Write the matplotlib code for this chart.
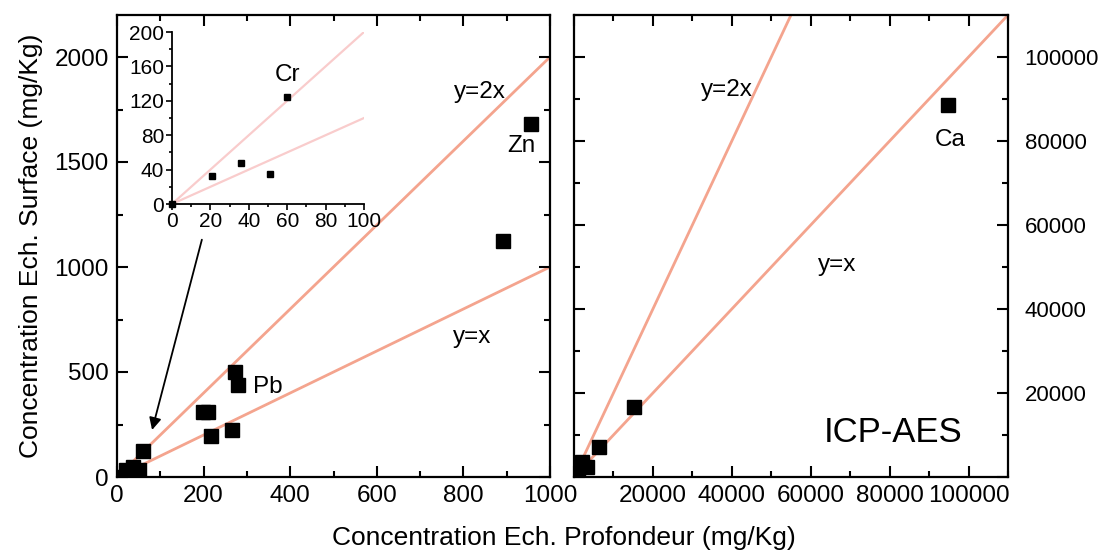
import matplotlib
matplotlib.use("Agg")
import matplotlib.pyplot as plt
from matplotlib.ticker import MultipleLocator, FuncFormatter

plt.rcParams['font.family'] = ['Liberation Sans', 'DejaVu Sans']

# Trace elements (mg/Kg): depth sample vs surface sample
cr_depth = [0, 21, 36, 51, 60]
cr_surface = [0, 33, 48, 35, 125]
trace_depth = [273, 280, 198, 210, 217, 266, 892, 956]
trace_surface = [500, 440, 310, 310, 196, 224, 1125, 1683]

# Major elements (mg/Kg)
major_depth = [1000, 3300, 2000, 6300, 15200, 94900]
major_surface = [1700, 2400, 3600, 7100, 16700, 88600]

line_color = '#f4a48e'
inset_line_color = '#f9cccc'
fs = 17.5
label_fs = 19

fig = plt.figure(figsize=(10.98, 5.52), dpi=100)
ax1 = fig.add_axes([117 / 1098, 75 / 552, 433 / 1098, 462 / 552])
ax2 = fig.add_axes([574 / 1098, 75 / 552, 434 / 1098, 462 / 552])


def style(ax):
    for s in ax.spines.values():
        s.set_linewidth(1.6)
    ax.tick_params(which='both', direction='in', top=True, right=True,
                   width=1.5, labelsize=fs, pad=6)
    ax.tick_params(which='major', length=8)
    ax.tick_params(which='minor', length=4.5)


# Left panel
style(ax1)
ax1.set_xlim(0, 1000)
ax1.set_ylim(0, 2200)
ax1.xaxis.set_major_locator(MultipleLocator(200))
ax1.xaxis.set_minor_locator(MultipleLocator(100))
ax1.yaxis.set_major_locator(MultipleLocator(500))
ax1.yaxis.set_minor_locator(MultipleLocator(250))
ref = [0, 1000]
ax1.plot(ref, [v * 2 for v in ref], color=line_color, lw=2, zorder=1)
ax1.plot(ref, ref, color=line_color, lw=2, zorder=1)
ax1.plot(trace_depth, trace_surface, 's', color='black', ms=9.5, zorder=3)
ax1.plot(cr_depth, cr_surface, 's', color='black', ms=9.5, zorder=3)
ax1.text(838, 1831, 'y=2x', fontsize=fs, ha='center', va='center')
ax1.text(933, 1574, 'Zn', fontsize=fs, ha='center', va='center')
ax1.text(820, 668, 'y=x', fontsize=fs, ha='center', va='center')
ax1.text(349, 429, 'Pb', fontsize=fs, ha='center', va='center')
ax1.annotate('', xy=(81, 224), xytext=(196, 1130),
             arrowprops=dict(arrowstyle='-|>', color='black', lw=1.3,
                             mutation_scale=18, shrinkA=0, shrinkB=0))
ax1.set_ylabel('Concentration Ech. Surface (mg/Kg)', fontsize=label_fs)
ax1.yaxis.set_label_coords(-0.172, 0.5)

# Inset: Cr detail
axin = fig.add_axes([172 / 1098, 348 / 552, 192 / 1098, 172 / 552])
axin.set_xlim(0, 100)
axin.set_ylim(0, 200)
for side in ('top', 'right'):
    axin.spines[side].set_visible(False)
for side in ('left', 'bottom'):
    axin.spines[side].set_linewidth(1.3)
axin.xaxis.set_major_locator(MultipleLocator(20))
axin.xaxis.set_minor_locator(MultipleLocator(10))
axin.yaxis.set_major_locator(MultipleLocator(40))
axin.yaxis.set_minor_locator(MultipleLocator(20))
axin.tick_params(which='both', direction='out', labelsize=15, width=1.2, pad=1.5)
axin.tick_params(which='major', length=4)
axin.tick_params(which='minor', length=2.5)
iref = [0, 100]
axin.plot(iref, [v * 2 for v in iref], color=inset_line_color, lw=1.6, zorder=1)
axin.plot(iref, iref, color=inset_line_color, lw=1.6, zorder=1)
axin.plot(cr_depth, cr_surface, 's', color='black', ms=5, zorder=3, clip_on=False)
axin.text(60, 150, 'Cr', fontsize=fs, ha='center', va='center')
axin.patch.set_alpha(0)

# Right panel
style(ax2)
ax2.set_xlim(0, 110000)
ax2.set_ylim(0, 110000)
ax2.xaxis.set_major_locator(MultipleLocator(20000))
ax2.xaxis.set_minor_locator(MultipleLocator(10000))
ax2.yaxis.set_major_locator(MultipleLocator(20000))
ax2.yaxis.set_minor_locator(MultipleLocator(10000))
ax2.tick_params(axis='y', which='both', labelleft=False, labelright=True,
                labelsize=16, pad=12)
ax2.xaxis.set_major_formatter(FuncFormatter(lambda v, p: '' if v == 0 else f'{v:.0f}'))
ax2.yaxis.set_major_formatter(FuncFormatter(lambda v, p: '' if v == 0 else f'{v:.0f}'))
rref = [0, 110000]
ax2.plot([0, 55000], [0, 110000], color=line_color, lw=2, zorder=1)
ax2.plot(rref, rref, color=line_color, lw=2, zorder=1)
ax2.plot(major_depth, major_surface, 's', color='black', ms=9.5, zorder=3)
ax2.text(38700, 92100, 'y=2x', fontsize=fs, ha='center', va='center')
ax2.text(66800, 50500, 'y=x', fontsize=fs, ha='center', va='center')
ax2.text(95400, 80200, 'Ca', fontsize=fs, ha='center', va='center')
ax2.text(80800, 10700, 'ICP-AES', fontsize=25, ha='center', va='center')

fig.text(0.514, 0.025, 'Concentration Ech. Profondeur (mg/Kg)', fontsize=label_fs,
         ha='center', va='center')

fig.savefig('out.png', dpi=100)
